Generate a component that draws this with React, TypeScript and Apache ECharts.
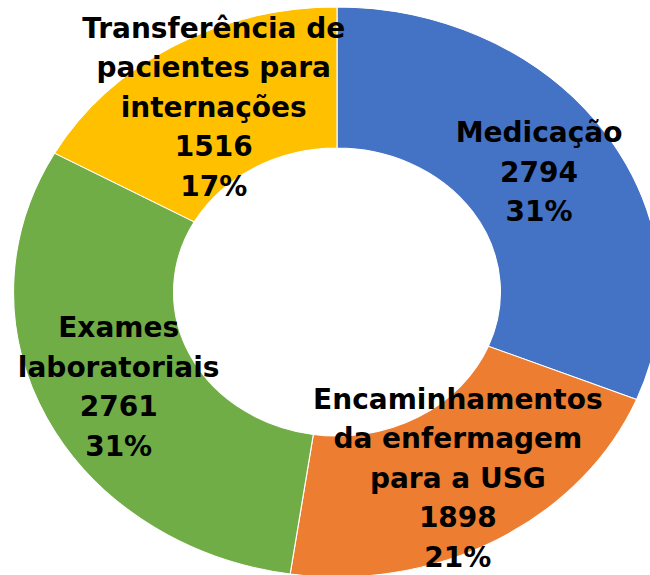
import React, { useEffect, useRef } from "react";
import * as echarts from "echarts";

const categories = [
  "Medicação",
  "Encaminhamentos\nda enfermagem\npara a USG",
  "Exames\nlaboratoriais",
  "Transferência de\npacientes para\ninternações",
];
const values = [2794, 1898, 2761, 1516];
const colors = ["#4472C4", "#ED7D31", "#70AD47", "#FFC000"];

export default function App() {
  const ref = useRef<HTMLDivElement>(null);
  useEffect(() => {
    if (!ref.current) return;
    const chart = echarts.init(ref.current, null, { renderer: "svg" });
    const total = values.reduce((a, b) => a + b, 0);
    const cx = 337;
    const cy = 292;
    const rOuter = 285;
    const rInner = 144;
    const sx = 1.135;
    chart.setOption({
      animation: false,
      series: [
        {
          type: "custom",
          coordinateSystem: "none",
          data: values.map((v, i) => ({ value: v, name: categories[i] })),
          renderItem: (params: any, api: any) => {
            const idx = params.dataIndex;
            let cum = 0;
            for (let i = 0; i < idx; i++) cum += values[i];
            const v = api.value(0);
            const start = -Math.PI / 2 + (cum / total) * Math.PI * 2;
            const end = start + (v / total) * Math.PI * 2;
            const mid = (start + end) / 2;
            const rm = (rOuter + rInner) / 2;
            const lx = cx + rm * sx * Math.cos(mid);
            const ly = cy + rm * Math.sin(mid);
            const pct = Math.round((v / total) * 100) + "%";
            return {
              type: "group",
              children: [
                {
                  type: "group",
                  x: cx,
                  y: cy,
                  scaleX: sx,
                  children: [
                    {
                      type: "sector",
                      shape: {
                        cx: 0,
                        cy: 0,
                        r0: rInner,
                        r: rOuter,
                        startAngle: start,
                        endAngle: end,
                        clockwise: true,
                      },
                      style: {
                        fill: colors[idx],
                        stroke: "#ffffff",
                        lineWidth: 1,
                      },
                    },
                  ],
                },
                {
                  type: "text",
                  x: lx,
                  y: ly,
                  z2: 100,
                  style: {
                    text: categories[idx] + "\n" + v + "\n" + pct,
                    fontFamily: "DejaVu Sans",
                    fontWeight: "bold",
                    fontSize: 28,
                    lineHeight: 39.5,
                    fill: "#000000",
                    align: "center",
                    verticalAlign: "middle",
                  },
                },
              ],
            };
          },
        },
      ],
    });
    return () => chart.dispose();
  }, []);
  return (
    <div
      ref={ref}
      style={{ position: "fixed", left: 0, top: 0, width: 650, height: 575, background: "#ffffff" }}
    />
  );
}
